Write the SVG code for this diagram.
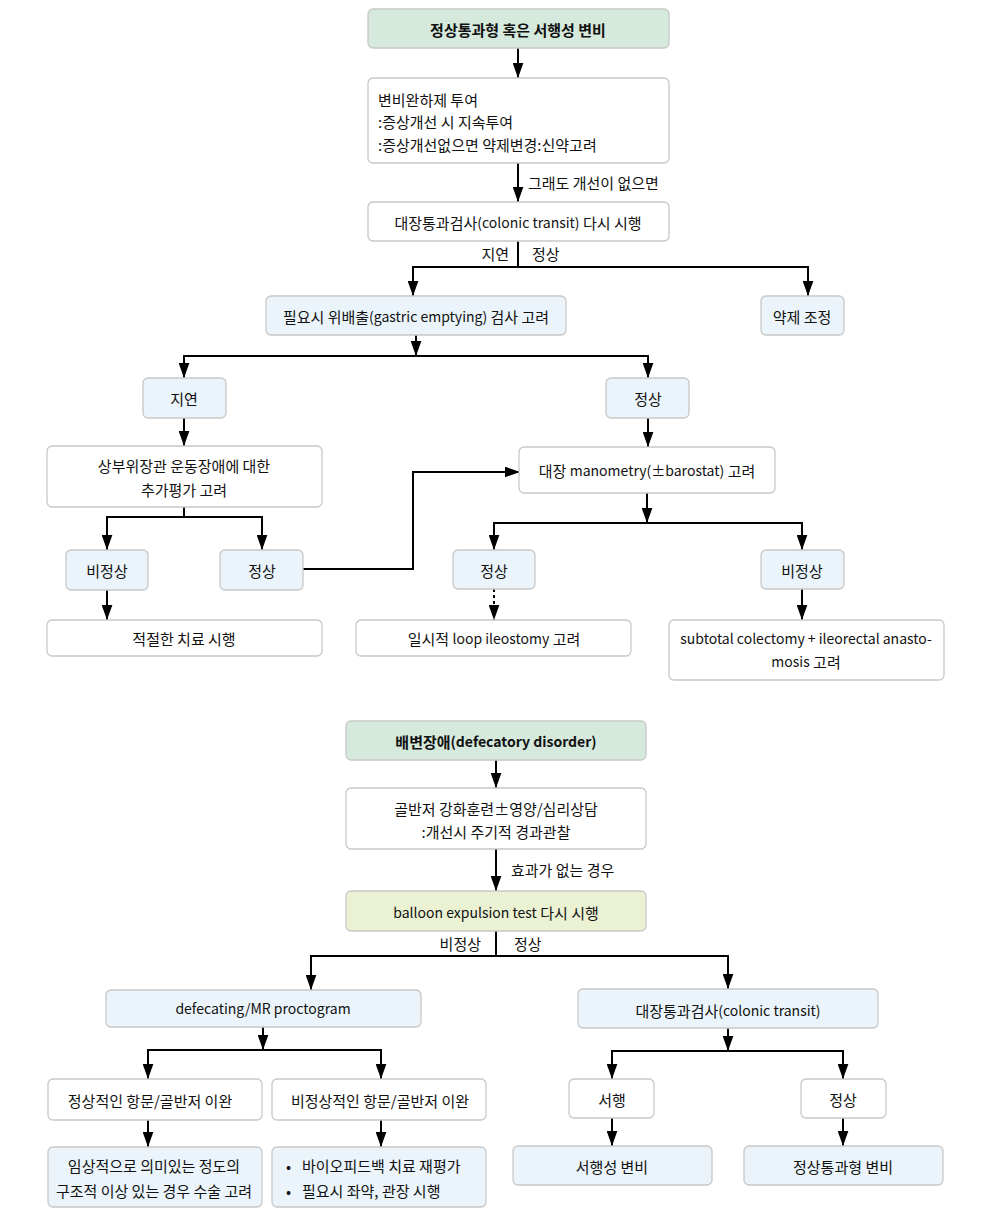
<svg xmlns="http://www.w3.org/2000/svg" width="990" height="1214" viewBox="0 0 990 1214">
<style>
text{font-family:"Noto Sans CJK KR","Noto Sans",sans-serif;font-size:15px;fill:#111;dominant-baseline:central}
.e{font-size:14px}
.c{text-anchor:middle}
.b{font-weight:bold}
rect{stroke:#c8c8c8;stroke-width:1.3}
.w{fill:#ffffff}
.g{fill:#d5e9dc}
.l{fill:#eaf4fa}
.y{fill:#ebf2d4}
.ln{fill:none;stroke:#000;stroke-width:2}
.d{stroke-dasharray:3,3}
</style>
<defs>
<marker id="ah" viewBox="0 0 14 10" refX="14" refY="5" markerWidth="15" markerHeight="11" markerUnits="userSpaceOnUse" orient="auto"><path d="M0,0 L14,5 L0,10 z" fill="#000"/></marker>
</defs>
<rect width="990" height="1214" fill="#fff" style="stroke:none"/>
<g id="connectors">
<path class="ln" d="M518,48 V78" marker-end="url(#ah)"/>
<path class="ln" d="M518,163 V202" marker-end="url(#ah)"/>
<path class="ln" d="M518,241 V267"/>
<path class="ln" d="M413,296 V267 H808 V296" marker-end="url(#ah)"/>
<path class="ln" d="M413,267 V296" marker-end="url(#ah)"/>
<path class="ln" d="M416,335 V356" marker-end="url(#ah)"/>
<path class="ln" d="M184,378 V356 H648 V378" marker-end="url(#ah)"/>
<path class="ln" d="M184,356 V378" marker-end="url(#ah)"/>
<path class="ln" d="M184,418 V446" marker-end="url(#ah)"/>
<path class="ln" d="M184,507 V517"/>
<path class="ln" d="M107,550 V517 H262 V550" marker-end="url(#ah)"/>
<path class="ln" d="M107,517 V550" marker-end="url(#ah)"/>
<path class="ln" d="M303,569 H413 V472 H520" marker-end="url(#ah)"/>
<path class="ln" d="M107,590 V620" marker-end="url(#ah)"/>
<path class="ln" d="M648,418 V447" marker-end="url(#ah)"/>
<path class="ln" d="M647,493 V523" marker-end="url(#ah)"/>
<path class="ln" d="M494,550 V523 H802 V550" marker-end="url(#ah)"/>
<path class="ln" d="M494,523 V550" marker-end="url(#ah)"/>
<path class="ln d" d="M494,589 V620" marker-end="url(#ah)"/>
<path class="ln" d="M802,589 V620" marker-end="url(#ah)"/>
<path class="ln" d="M496,760 V788" marker-end="url(#ah)"/>
<path class="ln" d="M496,849 V891" marker-end="url(#ah)"/>
<path class="ln" d="M496,931 V956"/>
<path class="ln" d="M311,990 V956 H728 V989" marker-end="url(#ah)"/>
<path class="ln" d="M311,956 V990" marker-end="url(#ah)"/>
<path class="ln" d="M263,1027 V1050" marker-end="url(#ah)"/>
<path class="ln" d="M148,1079 V1050 H381 V1079" marker-end="url(#ah)"/>
<path class="ln" d="M148,1050 V1079" marker-end="url(#ah)"/>
<path class="ln" d="M148,1120 V1147" marker-end="url(#ah)"/>
<path class="ln" d="M381,1120 V1147" marker-end="url(#ah)"/>
<path class="ln" d="M728,1028 V1051" marker-end="url(#ah)"/>
<path class="ln" d="M612,1079 V1051 H843 V1079" marker-end="url(#ah)"/>
<path class="ln" d="M612,1051 V1079" marker-end="url(#ah)"/>
<path class="ln" d="M612,1118 V1146" marker-end="url(#ah)"/>
<path class="ln" d="M843,1118 V1146" marker-end="url(#ah)"/>
<text x="528" y="182">그래도 개선이 없으면</text>
<text x="509" y="253" style="text-anchor:end">지연</text>
<text x="532" y="253">정상</text>
<text x="511" y="869">효과가 없는 경우</text>
<text x="481" y="943" style="text-anchor:end">비정상</text>
<text x="514" y="943">정상</text>
</g>
<g id="n1"><rect class="g" x="368" y="9" width="301" height="39" rx="5"/><text class="c b" x="518" y="29">정상통과형 혹은 서행성 변비</text></g>
<g id="n2"><rect class="w" x="368" y="78" width="301" height="85" rx="5"/><text x="378" y="99">변비완하제 투여</text><text x="378" y="121">:증상개선 시 지속투여</text><text x="378" y="144">:증상개선없으면 약제변경:신약고려</text></g>
<g id="n3"><rect class="w" x="368" y="202" width="301" height="39" rx="5"/><text class="c" x="518" y="222">대장통과검사<tspan class="e">(colonic transit)</tspan> 다시 시행</text></g>
<g id="n4"><rect class="l" x="266" y="296" width="300" height="39" rx="5"/><text class="c" x="416" y="316">필요시 위배출<tspan class="e">(gastric emptying)</tspan> 검사 고려</text></g>
<g id="n5"><rect class="l" x="761" y="296" width="83" height="39" rx="5"/><text class="c" x="802" y="316">약제 조정</text></g>
<g id="n6"><rect class="l" x="143" y="378" width="83" height="40" rx="5"/><text class="c" x="184" y="398">지연</text></g>
<g id="n7"><rect class="l" x="606" y="378" width="83" height="40" rx="5"/><text class="c" x="648" y="398">정상</text></g>
<g id="n8"><rect class="w" x="47" y="446" width="275" height="61" rx="5"/><text class="c" x="184" y="465">상부위장관 운동장애에 대한</text><text class="c" x="184" y="489">추가평가 고려</text></g>
<g id="n9"><rect class="l" x="66" y="550" width="82" height="40" rx="5"/><text class="c" x="107" y="570">비정상</text></g>
<g id="n10"><rect class="l" x="220" y="550" width="83" height="40" rx="5"/><text class="c" x="262" y="570">정상</text></g>
<g id="n11"><rect class="w" x="47" y="620" width="275" height="36" rx="5"/><text class="c" x="184" y="638">적절한 치료 시행</text></g>
<g id="n12"><rect class="w" x="519" y="447" width="256" height="46" rx="5"/><text class="c" x="647" y="470">대장 <tspan class="e">manometry(±barostat)</tspan> 고려</text></g>
<g id="n13"><rect class="l" x="453" y="550" width="82" height="39" rx="5"/><text class="c" x="494" y="570">정상</text></g>
<g id="n14"><rect class="l" x="761" y="550" width="83" height="39" rx="5"/><text class="c" x="802" y="570">비정상</text></g>
<g id="n15"><rect class="w" x="356" y="620" width="275" height="36" rx="5"/><text class="c" x="494" y="638">일시적 <tspan class="e">loop ileostomy</tspan> 고려</text></g>
<g id="n16"><rect class="w" x="669" y="620" width="275" height="60" rx="5"/><text class="c e" x="806" y="638">subtotal colectomy + ileorectal anasto-</text><text class="c" x="806" y="661"><tspan class="e">mosis</tspan> 고려</text></g>
<g id="n17"><rect class="g" x="346" y="721" width="300" height="39" rx="5"/><text class="c b" x="496" y="741">배변장애<tspan class="e">(defecatory disorder)</tspan></text></g>
<g id="n18"><rect class="w" x="346" y="788" width="300" height="61" rx="5"/><text class="c" x="496" y="808">골반저 강화훈련±영양/심리상담</text><text class="c" x="496" y="831">:개선시 주기적 경과관찰</text></g>
<g id="n19"><rect class="y" x="346" y="891" width="300" height="40" rx="5"/><text class="c" x="496" y="912"><tspan class="e">balloon expulsion test</tspan> 다시 시행</text></g>
<g id="n20"><rect class="l" x="106" y="990" width="315" height="37" rx="5"/><text class="c e" x="263" y="1008">defecating/MR proctogram</text></g>
<g id="n21"><rect class="l" x="578" y="989" width="300" height="39" rx="5"/><text class="c" x="728" y="1010">대장통과검사<tspan class="e">(colonic transit)</tspan></text></g>
<g id="n22"><rect class="w" x="48" y="1079" width="214" height="41" rx="5"/><text class="c" x="150" y="1100">정상적인 항문/골반저 이완</text></g>
<g id="n23"><rect class="w" x="272" y="1079" width="214" height="41" rx="5"/><text class="c" x="380" y="1100">비정상적인 항문/골반저 이완</text></g>
<g id="n24"><rect class="l" x="48" y="1147" width="214" height="60" rx="5"/><text class="c" x="154" y="1165">임상적으로 의미있는 정도의</text><text class="c" x="154" y="1190">구조적 이상 있는 경우 수술 고려</text></g>
<g id="n25"><rect class="l" x="272" y="1147" width="214" height="60" rx="5"/><text x="286" y="1165">•</text><text x="302" y="1165">바이오피드백 치료 재평가</text><text x="286" y="1190">•</text><text x="302" y="1190">필요시 좌약, 관장 시행</text></g>
<g id="n26"><rect class="w" x="569" y="1079" width="85" height="39" rx="5"/><text class="c" x="612" y="1099">서행</text></g>
<g id="n27"><rect class="w" x="801" y="1079" width="85" height="39" rx="5"/><text class="c" x="843" y="1099">정상</text></g>
<g id="n28"><rect class="l" x="513" y="1146" width="199" height="39" rx="5"/><text class="c" x="612" y="1166">서행성 변비</text></g>
<g id="n29"><rect class="l" x="744" y="1146" width="199" height="39" rx="5"/><text class="c" x="843" y="1166">정상통과형 변비</text></g>
</svg>
